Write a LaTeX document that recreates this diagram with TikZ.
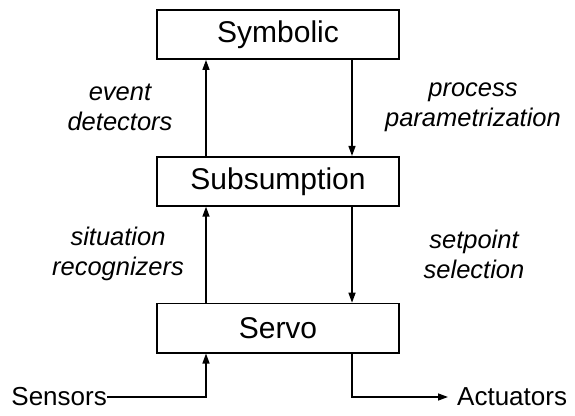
\documentclass[tikz,border=0pt]{standalone}
\usepackage{fontspec}
\setmainfont{Liberation Sans}
\usepackage{tikz}
\usetikzlibrary{arrows.meta,positioning}
\tikzset{
  layerbox/.style={
    draw=black,
    line width=1.8pt,
    minimum width=242pt,
    minimum height=49pt,
    inner sep=0pt,
    align=center,
    font=\fontsize{30}{32}\selectfont
  },
  cuelabel/.style={
    align=center,
    inner sep=0pt,
    font=\fontsize{25.5}{30}\selectfont\itshape
  },
  endlabel/.style={
    font=\fontsize{26}{30}\selectfont
  },
  arrow/.style={
    -{Triangle[length=10pt,width=7pt]},
    line width=1.4pt,
    draw=black
  }
}

\begin{document}
\begin{tikzpicture}[x=1pt,y=1pt]
\useasboundingbox (0,0) rectangle (575,415);
\node[layerbox] (symbolic) at (278,380.5) {Symbolic};
\node[layerbox, below=96pt of symbolic] (subsumption) {Subsumption};
\node[layerbox, below=96pt of subsumption] (servo) {Servo};
\node[cuelabel] (events) at (120,308) {event\\detectors};
\node[cuelabel] (params) at (473,308) {process\\parametrization};
\node[cuelabel] (situations) at (118,161) {situation\\recognizers};
\node[cuelabel] (setpoints) at (474,161) {setpoint\\selection};
\node[endlabel, anchor=east, inner sep=0pt] (sensors) at (107,18) {Sensors};
\node[endlabel, anchor=west, inner sep=0pt] (actuators) at (457,18) {Actuators};
\draw[arrow] ([xshift=-72pt]subsumption.north) -- ([xshift=-72pt]symbolic.south);
\draw[arrow] ([xshift=74pt]symbolic.south) -- ([xshift=74pt]subsumption.north);
\draw[arrow] ([xshift=-72pt]servo.north) -- ([xshift=-72pt]subsumption.south);
\draw[arrow] ([xshift=74pt]subsumption.south) -- ([xshift=74pt]servo.north);
\draw[arrow] (sensors.east) -| ([xshift=-72pt]servo.south);
\draw[arrow, shorten >=9pt] ([xshift=74pt]servo.south) |- (actuators.west);
\end{tikzpicture}
\end{document}
